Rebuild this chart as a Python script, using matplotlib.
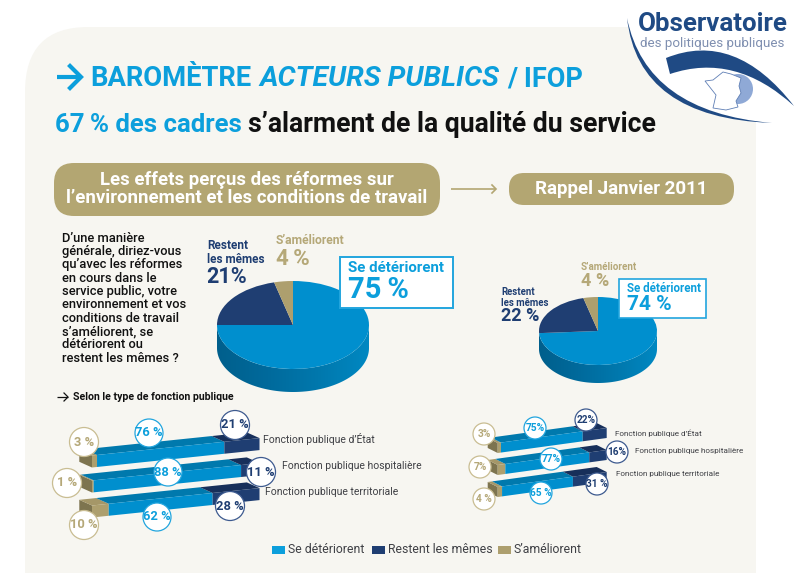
# -*- coding: utf-8 -*-
"""Barometre Acteurs publics / Ifop: pies + oblique 3D bars, drawn in pixel coords."""

import numpy as np
import matplotlib
matplotlib.use("Agg")
import matplotlib.pyplot as plt
from matplotlib.colors import LinearSegmentedColormap
from matplotlib.patches import Circle, FancyBboxPatch, PathPatch, Polygon, Rectangle
from matplotlib.path import Path

plt.rcParams["font.family"] = ["Roboto", "DejaVu Sans"]

W, H = 800, 573

# data
series_names = ["Se détériorent", "Restent les mêmes", "S’améliorent"]
fonctions = ["Fonction publique d’État", "Fonction publique hospitalière", "Fonction publique territoriale"]
pie_main = [75, 21, 4]
pie_prev = [74, 22, 4]
deter_main = [76, 88, 62]
memes_main = [21, 11, 28]
amel_main = [3, 1, 10]
deter_prev = [75, 77, 65]
memes_prev = [22, 16, 31]
amel_prev = [3, 7, 4]
question = ["D’une manière", "générale, diriez-vous", "qu’avec les réformes", "en cours dans le",
            "service public, votre", "environnement et vos", "conditions de travail",
            "s’améliorent, se", "détériorent ou", "restent les mêmes ?"]

# colours
BLUE, BLUE_TOP, BLUE_TXT = "#008fce", "#0079ad", "#0c9fdc"
NAVY, NAVY_TOP = "#1f3e72", "#172f5a"
TAN, TAN_TOP, TAN_SIDE, TAN_TXT = "#ad9f6e", "#a59768", "#7d744f", "#b5a878"
GOLD = "#b3a672"
PANEL = "#f7f6f1"
GREY = "#3f4045"
THIN = "\u2009"

# circle label positions, same order as the rows: (deter, memes, amel)
circ_main = [[(149, 433), (235, 425), (84, 442)],
             [(168, 472), (261, 472), (67, 483)],
             [(157, 517), (230, 506), (84, 525)]]
circ_prev = [[(535, 428), (586, 420), (484, 434)],
             [(551, 459), (617, 452), (480, 467)],
             [(541, 493), (597, 484), (484, 499)]]
fonction_pos_main = [(263, 439), (282, 466), (265, 492)]
fonction_pos_prev = [(615, 433), (635, 451), (616, 474)]

rim_cmap = LinearSegmentedColormap.from_list("rim", ["#005f8c", "#006a9c", "#0078ad", "#0088c2"])

fig = plt.figure(figsize=(W / 100, H / 100), dpi=100)
ax = fig.add_axes([0, 0, 1, 1], zorder=0)
ax.set_xlim(0, W)
ax.set_ylim(H, 0)
ax.axis("off")
top = fig.add_axes([0, 0, 1, 1], zorder=2)
top.set_xlim(0, W)
top.set_ylim(H, 0)
top.axis("off")
top.patch.set_alpha(0)


def draw_pie(values, cx, cy, rx, ry, depth):
    """Flattened pie in its own axes, with the extruded rim under it."""
    box = [(cx - rx) / W, 1 - (cy + ry + depth) / H, 2 * rx / W, (2 * ry + depth) / H]
    pax = fig.add_axes(box, zorder=1)
    pax.pie(values, startangle=90, counterclock=False, colors=[BLUE, NAVY, TAN],
            radius=1, wedgeprops={"linewidth": 0})
    d = depth / ry
    th = np.linspace(np.pi, 2 * np.pi, 120)
    rim = np.concatenate([np.c_[np.cos(th), np.sin(th) - d], np.c_[np.cos(th[::-1]), np.sin(th[::-1])]])
    img = pax.imshow(np.linspace(0, 1, 256)[None, :], extent=(-1, 1, -1 - d, 0), cmap=rim_cmap,
                     aspect="auto", zorder=0)
    img.set_clip_path(Polygon(rim, transform=pax.transData))
    pax.set_aspect("auto")
    pax.set_xlim(-1, 1)
    pax.set_ylim(-1 - d, 1)
    pax.axis("off")


def draw_bar(amel, deter, memes, x0, y0, width, rise, h, ox, oy):
    """One oblique bar; segments are cut by the cumulative shares."""
    vals = [amel, deter, memes]
    edges = np.concatenate([[0], np.cumsum(vals)]) / float(sum(vals))
    front = [TAN, BLUE, NAVY]
    upper = [TAN_TOP, BLUE_TOP, NAVY_TOP]
    xs = x0 + edges * width
    ys = y0 - edges * rise
    # left end face
    ax.add_patch(Polygon([(x0 + ox, y0 - h + oy), (x0, y0 - h), (x0, y0), (x0 + ox, y0 + oy)],
                         fc=TAN_SIDE, ec="none"))
    for i in range(3):
        a, b = (xs[i], ys[i]), (xs[i + 1], ys[i + 1])
        ax.add_patch(Polygon([(a[0], a[1] - h), (b[0], b[1] - h),
                              (b[0] + ox, b[1] - h + oy), (a[0] + ox, a[1] - h + oy)],
                             fc=upper[i], ec="none"))
        ax.add_patch(Polygon([(a[0], a[1]), (b[0], b[1]), (b[0], b[1] - h), (a[0], a[1] - h)],
                             fc=front[i], ec="none"))


def bubble(x, y, r, txt, col, edge, size):
    top.add_patch(Circle((x, y), r, fc="white", ec=edge, lw=0.9))
    top.text(x, y, txt, color=col, fontsize=size, fontweight="bold", ha="center", va="center")


def line_arrow(a, x0, x1, y, half, col, lw):
    a.plot([x0, x1], [y, y], color=col, lw=lw, solid_capstyle="butt")
    a.plot([x1 - half, x1, x1 - half], [y - half, y, y + half], color=col, lw=lw, solid_joinstyle="miter")


# background panel
ax.add_patch(PathPatch(Path([(25, H), (25, 92), (25, 27), (88, 27), (756, 27), (756, H), (25, H)],
                            [Path.MOVETO, Path.LINETO, Path.CURVE3, Path.CURVE3, Path.LINETO,
                             Path.LINETO, Path.CLOSEPOLY]),
                       fc=PANEL, ec="none"))

# logo: white inside the eye, two swooshes, map
ax.add_patch(PathPatch(Path([(627, 0), (627, 18), (640, 118), (772, 123), (800, 123), (800, 0), (627, 0)],
                            [Path.MOVETO, Path.LINETO, Path.CURVE3, Path.CURVE3, Path.LINETO,
                             Path.LINETO, Path.CLOSEPOLY]),
                       fc="white", ec="none"))
ax.add_patch(PathPatch(Path([(627, 18), (638, 118), (772, 123), (646, 112), (627, 18)],
                            [Path.MOVETO, Path.CURVE3, Path.CURVE3, Path.CURVE3, Path.CURVE3]),
                       fc="#1f4a84", ec="none"))
ax.add_patch(PathPatch(Path([(666, 58), (735, 30), (794, 106), (735, 52), (670, 74), (666, 58)],
                            [Path.MOVETO, Path.CURVE3, Path.CURVE3, Path.CURVE3, Path.CURVE3, Path.LINETO]),
                       fc="#1f4a84", ec="none"))
ax.add_patch(Circle((738, 89), 15, fc="#8fa9d6", ec="none"))
ax.add_patch(Polygon([(723, 72), (731, 74), (741, 78), (739, 86), (741, 93), (736, 101), (738, 107),
                      (726, 110), (713, 108), (716, 95), (705, 81), (713, 80)],
                     fc="white", ec="#5f7fb5", lw=0.6))
top.text(638, 24, "Observatoire", color="#1f4a84", fontsize=18.6, fontweight="bold", va="center")
top.text(640, 43, "des politiques publiques", color="#7f8fb0", fontsize=9.6, va="center")

# titles
line_arrow(ax, 57, 81, 77, 11, BLUE_TXT, 3)
ax.text(90, 86, "BAROMÈTRE", color=BLUE_TXT, fontsize=19.7, fontweight="bold", va="baseline")
ax.text(259, 86, "ACTEURS PUBLICS", color=BLUE_TXT, fontsize=20.4, fontweight="bold", style="italic", va="baseline")
ax.text(507, 86, "/ IFOP", color=BLUE_TXT, fontsize=19.5, fontweight="bold", va="baseline")
ax.text(55, 132, "67" + THIN + "% des cadres", color=BLUE_TXT, fontsize=18.5, fontweight="bold", va="baseline")
ax.text(248, 132, "s’alarment de la qualité du service", color="#111111", fontsize=19.2, fontweight="bold", va="baseline")

# gold headers
ax.add_patch(FancyBboxPatch((54, 163), 386, 53, boxstyle="round,pad=0,rounding_size=20", fc=GOLD, ec="none"))
ax.add_patch(FancyBboxPatch((509, 173), 225, 32, boxstyle="round,pad=0,rounding_size=15", fc=GOLD, ec="none"))
ax.text(247, 180, "Les effets perçus des réformes sur", color="white", fontsize=13.4, fontweight="bold", ha="center", va="center")
ax.text(247, 198, "l’environnement et les conditions de travail", color="white", fontsize=13.4, fontweight="bold", ha="center", va="center")
ax.text(621, 189, "Rappel Janvier 2011", color="white", fontsize=13.5, fontweight="bold", ha="center", va="center")
line_arrow(ax, 451, 496, 189, 4, GOLD, 1.2)

# question
for i, line in enumerate(question):
    ax.text(62, 238 + i * 13.35, line, color="#111111", fontsize=9.3, fontweight="medium", va="center")

# pies
draw_pie(pie_main, 293, 325, 76, 44, 23)
draw_pie(pie_prev, 598, 331, 59, 34, 18)

# pie labels, current
top.text(207, 252.5, "Restent\nles mêmes", color=NAVY, fontsize=8.5, fontweight="bold", va="center", linespacing=1.1)
top.text(206, 277, "%d%%" % pie_main[1], color=NAVY, fontsize=15.5, fontweight="bold", va="center")
top.text(276, 241, "S’améliorent", color=TAN_TXT, fontsize=8.7, fontweight="bold", va="center")
top.text(276, 259, "%d%s%%" % (pie_main[2], THIN), color=TAN_TXT, fontsize=16, fontweight="bold", va="center")
top.add_patch(Rectangle((340, 257), 113, 51, fc="white", ec="#22a5de", lw=1.4))
top.text(348, 268, "Se détériorent", color=BLUE_TXT, fontsize=10.8, fontweight="bold", va="center")
top.text(348, 290, "%d%s%%" % (pie_main[0], THIN), color=BLUE_TXT, fontsize=21, fontweight="bold", va="center")

# pie labels, rappel
top.text(581, 267, "S’améliorent", color=TAN_TXT, fontsize=7.1, fontweight="bold", va="center")
top.text(581, 281, "%d %%" % pie_prev[2], color=TAN_TXT, fontsize=13, fontweight="bold", va="center")
top.text(501, 297.5, "Restent\nles mêmes", color=NAVY, fontsize=6.9, fontweight="bold", va="center", linespacing=1.1)
top.text(501, 316, "%d %%" % pie_prev[1], color=NAVY, fontsize=13, fontweight="bold", va="center")
top.add_patch(Rectangle((619, 279), 87, 39, fc="white", ec="#22a5de", lw=1.2))
top.text(627, 288, "Se détériorent", color=BLUE_TXT, fontsize=8.4, fontweight="bold", va="center")
top.text(627, 305, "%d %%" % pie_prev[0], color=BLUE_TXT, fontsize=15, fontweight="bold", va="center")

# sub heading
line_arrow(ax, 57, 68, 397, 4, "#111111", 0.9)
ax.text(73, 397, "Selon le type de fonction publique", color="#111111", fontsize=7.6, fontweight="bold", va="center")

# bars, current
for i in range(3):
    draw_bar(amel_main[i], deter_main[i], memes_main[i], 92, 467.5 + i * 25, 167.5, 17.4, 12, -12.7, -5.7)
    (bx, by), (mx, my), (tx, ty) = circ_main[i]
    bubble(bx, by, 14, "%d %%" % deter_main[i], BLUE_TXT, "#22a5de", 9.3)
    bubble(mx, my, 14.5, "%d %%" % memes_main[i], NAVY, "#3d5a8f", 9.3)
    bubble(tx, ty, 14.5, "%d %%" % amel_main[i], TAN_TXT, "#c9bd92", 9.3)
    ax.text(fonction_pos_main[i][0], fonction_pos_main[i][1], fonctions[i], color=GREY, fontsize=7.5, va="center")

# bars, rappel
for i in range(3):
    draw_bar(amel_prev[i], deter_prev[i], memes_prev[i], 497.7, 453 + i * 22, 109, 15, 10, -10, -5)
    sep = " " if i == 2 else ""
    (bx, by), (mx, my), (tx, ty) = circ_prev[i]
    bubble(bx, by, 11, "%d%s%%" % (deter_prev[i], sep), BLUE_TXT, "#22a5de", 7.3)
    bubble(mx, my, 11, "%d%s%%" % (memes_prev[i], sep), NAVY, "#3d5a8f", 7.3)
    bubble(tx, ty, 11, "%d%s%%" % (amel_prev[i], sep), TAN_TXT, "#c9bd92", 7.3)
    ax.text(fonction_pos_prev[i][0], fonction_pos_prev[i][1], fonctions[i], color=GREY, fontsize=5.9, va="center")

# legend
for x, col, name in zip([272, 372, 498], [BLUE_TXT, NAVY, TAN], series_names):
    ax.add_patch(Rectangle((x, 546), 13, 7.5, fc=col, ec="none"))
    ax.text(x + 16, 549.5, name, color=GREY, fontsize=8.8, va="center")

fig.savefig("out.png", dpi=100)
